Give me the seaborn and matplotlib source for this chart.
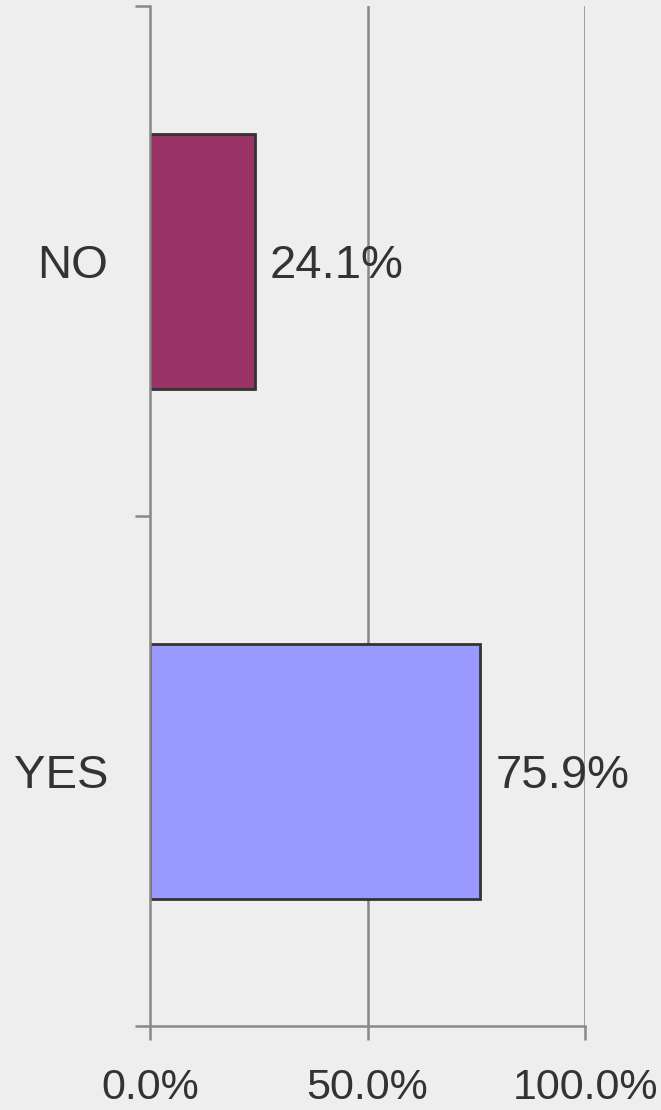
import matplotlib
matplotlib.use("Agg")
import matplotlib.pyplot as plt
import pandas as pd
import seaborn as sns

# Datos del gráfico
respuestas = ["NO", "YES"]
porcentajes = [24.1, 75.9]
colores = ["#993366", "#9999FF"]
ticks_x = [0, 50, 100]
etiquetas_x = ["0.0%", "50.0%", "100.0%"]

df = pd.DataFrame({"respuesta": respuestas, "porcentaje": porcentajes})

sns.set_style("white")
plt.rcParams["font.family"] = ["Liberation Sans", "DejaVu Sans"]

fondo = "#EEEEEE"
gris = "#888888"
texto = "#333333"

fig = plt.figure(figsize=(6.61, 11.10), dpi=100, facecolor=fondo)
ax = fig.add_axes([150 / 661, 84 / 1110, 435 / 661, 1020 / 1110])
ax.set_facecolor(fondo)

sns.barplot(data=df, x="porcentaje", y="respuesta", hue="respuesta",
            palette=colores, saturation=1, orient="h", width=0.5, legend=False,
            edgecolor="#333333", linewidth=2, ax=ax, zorder=3)

ax.set_xlim(0, 100)
ax.set_ylim(1.5, -0.5)

# Rejilla vertical
for x in ticks_x[1:]:
    ax.axvline(x, color=gris, linewidth=1.8, zorder=1)

ax.set_xticks(ticks_x)
ax.set_xticklabels(etiquetas_x)
ax.set_yticks([0, 1])
ax.set_yticklabels(respuestas)
ax.set_yticks([-0.5, 0.5, 1.5], minor=True)

ax.tick_params(axis="x", which="major", length=10, width=1.8, color=gris,
               labelsize=31, labelcolor=texto, pad=20, bottom=True)
ax.tick_params(axis="y", which="major", length=0, labelsize=34,
               labelcolor=texto, pad=30)
ax.tick_params(axis="y", which="minor", length=11, width=1.8, color=gris, left=True)

for lado in ["top", "right"]:
    ax.spines[lado].set_visible(False)
for lado in ["left", "bottom"]:
    ax.spines[lado].set_color(gris)
    ax.spines[lado].set_linewidth(1.8)
    ax.spines[lado].set_zorder(4)

ax.set_xlabel("")
ax.set_ylabel("")

# Etiquetas de valor
for i, v in enumerate(porcentajes):
    ax.annotate(f"{v:.1f}%", xy=(v, i), xytext=(11, 0), textcoords="offset points",
                va="center_baseline", ha="left", fontsize=34, color=texto, zorder=5)

fig.savefig("out.png", dpi=100, facecolor=fondo)
